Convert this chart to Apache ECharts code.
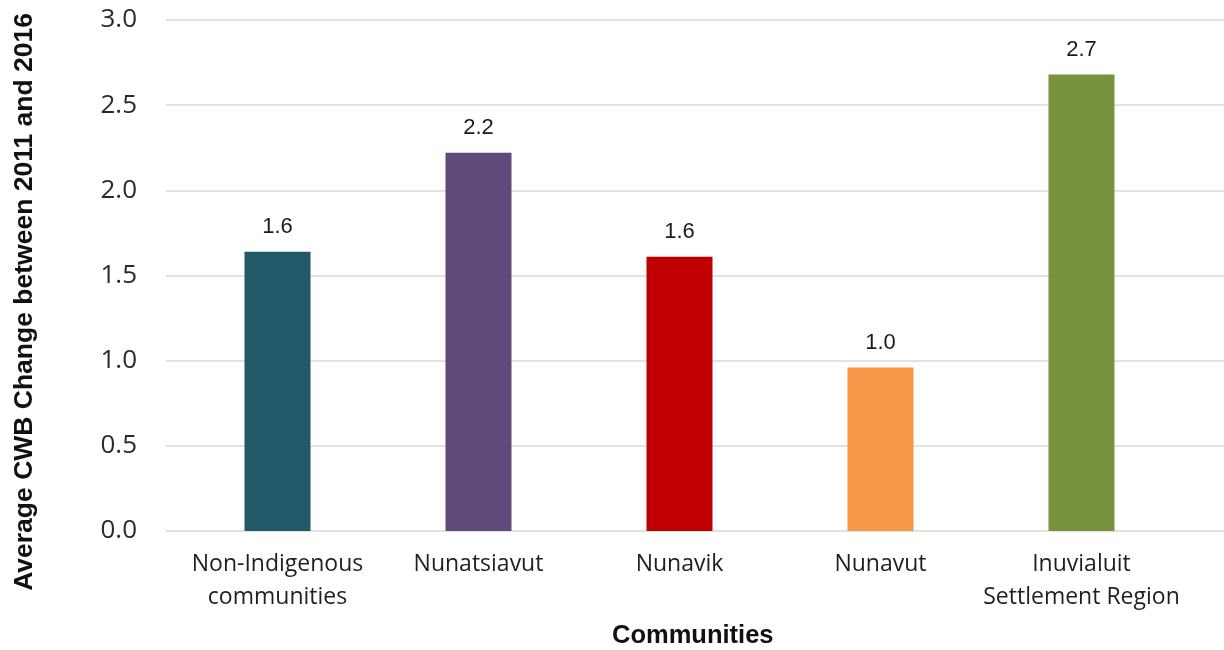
<!DOCTYPE html>
<html>
<head>
<meta charset="utf-8">
<script src="https://cdn.jsdelivr.net/npm/echarts@6/dist/echarts.min.js"></script>
<style>
  html, body { margin: 0; padding: 0; background: #ffffff; }
  #chart { width: 1224px; height: 650px; }
</style>
</head>
<body>
<div id="chart"></div>
<script>
// Average change in Community Well-Being (CWB) score, 2011 to 2016
const categories = [
  'Non-Indigenous\ncommunities',
  'Nunatsiavut',
  'Nunavik',
  'Nunavut',
  'Inuvialuit\nSettlement Region'
];
const cwbChange = [1.64, 2.22, 1.61, 0.96, 2.68];
const barColors = ['#215968', '#604A7B', '#C00000', '#F79646', '#77933C'];
const yTicks = { min: 0, max: 3, interval: 0.5 };

const yTitle = 'Average CWB Change between 2011 and 2016';
const xTitle = 'Communities';

const chart = echarts.init(document.getElementById('chart'), null, { renderer: 'canvas' });

const gridTop = 20;
const gridBottom = 119;

chart.setOption({
  animation: false,
  backgroundColor: '#ffffff',
  grid: [
    // value scale and horizontal gridlines across the full width
    { left: 166, right: 0, top: gridTop, bottom: gridBottom },
    // bar area
    { left: 177, right: 42, top: gridTop, bottom: gridBottom }
  ],
  xAxis: [
    {
      gridIndex: 0,
      type: 'category',
      data: categories,
      show: false
    },
    {
      gridIndex: 1,
      type: 'category',
      data: categories,
      axisLine: { show: false },
      axisTick: { show: false },
      axisLabel: {
        margin: 17,
        fontFamily: 'Open Sans',
        fontSize: 23,
        lineHeight: 33,
        color: '#1f1f1f',
        interval: 0
      }
    }
  ],
  yAxis: [
    {
      gridIndex: 0,
      type: 'value',
      min: yTicks.min,
      max: yTicks.max,
      interval: yTicks.interval,
      axisLine: { show: false },
      axisTick: { show: false },
      splitLine: { show: true, lineStyle: { color: '#d9d9d9', width: 1.5 } },
      axisLabel: {
        margin: 29,
        fontFamily: 'Open Sans',
        fontSize: 26,
        color: '#2b2b2b',
        formatter: v => v.toFixed(1)
      }
    },
    {
      gridIndex: 1,
      type: 'value',
      min: yTicks.min,
      max: yTicks.max,
      interval: yTicks.interval,
      show: false
    }
  ],
  series: [
    {
      type: 'bar',
      xAxisIndex: 1,
      yAxisIndex: 1,
      barWidth: 66,
      data: cwbChange.map((v, i) => ({ value: v, itemStyle: { color: barColors[i] } })),
      label: {
        show: true,
        position: 'top',
        distance: 14,
        fontFamily: 'Liberation Sans, Arial, sans-serif',
        fontSize: 22,
        color: '#1a1a1a',
        formatter: p => p.value.toFixed(1)
      }
    }
  ],
  graphic: [
    {
      type: 'text',
      left: 11,
      top: 13,
      rotation: Math.PI / 2,
      style: {
        text: yTitle,
        fontFamily: 'Liberation Sans, Arial, sans-serif',
        fontWeight: 'bold',
        fontSize: 26.5,
        fill: '#111111'
      }
    },
    {
      type: 'text',
      left: 612,
      top: 623,
      style: {
        text: xTitle,
        fontFamily: 'Liberation Sans, Arial, sans-serif',
        fontWeight: 'bold',
        fontSize: 25.5,
        fill: '#111111'
      }
    }
  ]
});
</script>
</body>
</html>
